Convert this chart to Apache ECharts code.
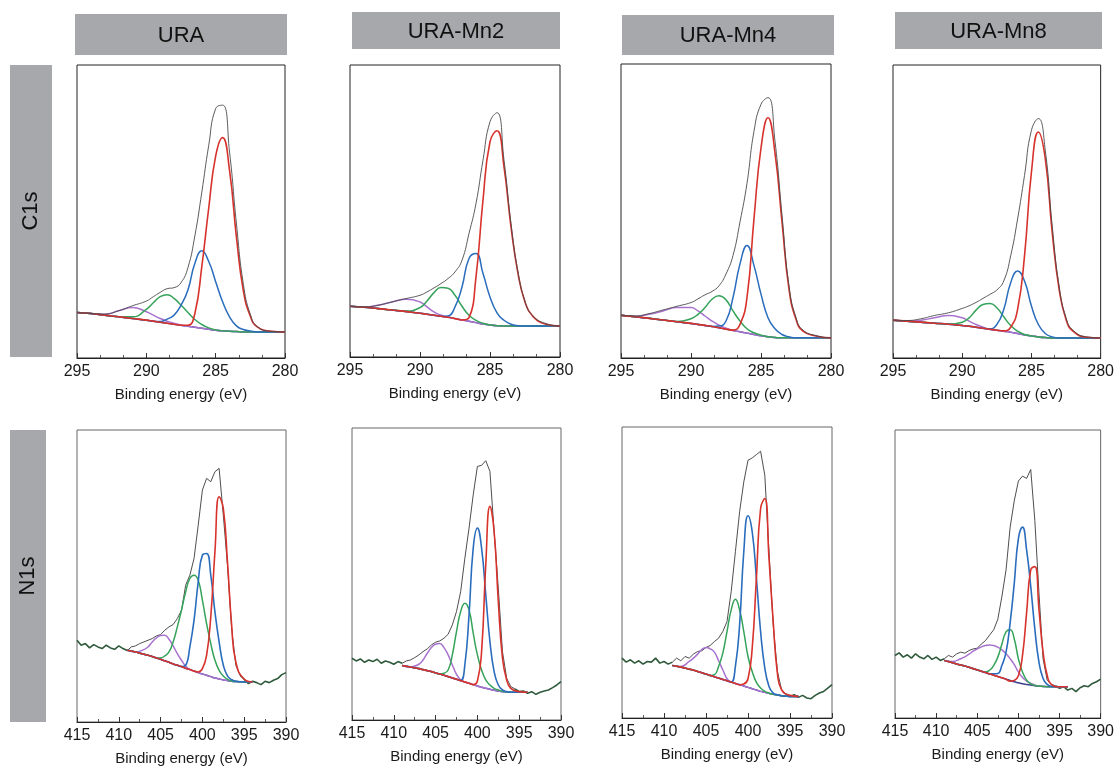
<!DOCTYPE html>
<html><head><meta charset="utf-8">
<script src="https://cdn.jsdelivr.net/npm/echarts@6/dist/echarts.min.js"></script>
<style>html,body{margin:0;padding:0;background:#fff}#chart{width:1117px;height:767px}</style>
</head><body><div id="chart"></div><script>
// ---------- labels ----------
const sampleNames = ['URA', 'URA-Mn2', 'URA-Mn4', 'URA-Mn8'];
const rowNames = ['C1s', 'N1s'];
const axisTitle = 'Binding energy (eV)';

// ---------- C1s (binding energy grid, eV) ----------
const c1sEnergy = [295, 294, 293, 292, 291, 290, 289.5, 289, 288.5, 288, 287.5, 287, 286.5, 286, 285.5, 285, 284.5, 284, 283.5, 283, 282.5, 282, 281, 280];

const c1sUraBg     = [13.6, 13.3, 12.8, 12.3, 11.8, 11.3, 11.0, 10.7, 10.4, 10.1, 9.8, 9.5, 9.2, 8.9, 8.6, 8.3, 8.1, 8.0, 7.9, 7.8, 7.8, 7.8, 7.8, 7.8];
const c1sUraPurple = [13.6, 13.3, 13.1, 14.1, 15.1, 13.8, 12.8, 11.8, 11.0, 10.4, 9.8, 9.5, 9.2, 8.9, 8.6, 8.3, 8.1, 8.0, 7.9, 7.8, 7.8, 7.8, 7.8, 7.8];
const c1sUraGreen  = [13.6, 13.3, 12.8, 12.3, 12.3, 14.5, 16.5, 18.3, 18.9, 17.8, 15.8, 13.6, 11.5, 10.0, 9.0, 8.4, 8.1, 8.0, 7.9, 7.8, 7.8, 7.8, 7.8, 7.8];
const c1sUraBlue   = [13.6, 13.3, 12.8, 12.3, 11.8, 11.3, 11.0, 10.9, 11.6, 12.8, 15.8, 20.3, 28.3, 32.0, 28.8, 22.8, 16.8, 12.3, 9.6, 8.5, 8.1, 7.8, 7.8, 7.8];
const c1sUraRed    = [13.6, 13.3, 12.8, 12.3, 11.8, 11.3, 11.0, 10.7, 10.4, 10.1, 9.8, 9.8, 13.3, 27.3, 44.8, 60.3, 65.8, 56.0, 36.0, 20.0, 12.5, 9.3, 8.0, 7.8];
const c1sUraEnv    = [13.6, 13.3, 13.1, 14.1, 15.6, 17.0, 18.3, 19.6, 20.7, 21.0, 22.5, 27.0, 36.5, 49.5, 63.5, 74.5, 75.5, 61.5, 40.0, 22.0, 13.0, 9.4, 8.0, 7.8];

const c1sMn2Bg     = [15.2, 14.9, 14.5, 14.1, 13.6, 13.1, 12.8, 12.5, 12.2, 11.9, 11.5, 11.1, 10.7, 10.3, 9.9, 9.6, 9.4, 9.3, 9.3, 9.3, 9.3, 9.3, 9.3, 9.3];
const c1sMn2Purple = [15.2, 15.0, 15.5, 16.5, 17.3, 16.5, 15.0, 13.5, 12.5, 12.0, 11.5, 11.1, 10.7, 10.3, 9.9, 9.6, 9.4, 9.3, 9.3, 9.3, 9.3, 9.3, 9.3, 9.3];
const c1sMn2Green  = [15.2, 14.9, 14.5, 14.1, 13.8, 14.8, 16.8, 19.3, 20.8, 20.6, 18.5, 15.2, 12.5, 11.0, 10.1, 9.6, 9.4, 9.3, 9.3, 9.3, 9.3, 9.3, 9.3, 9.3];
const c1sMn2Blue   = [15.2, 14.9, 14.5, 14.1, 13.6, 13.1, 12.8, 12.5, 12.2, 12.3, 15.0, 21.0, 29.5, 31.0, 25.0, 18.0, 13.2, 11.0, 9.8, 9.4, 9.3, 9.3, 9.3, 9.3];
const c1sMn2Red    = [15.2, 14.9, 14.5, 14.1, 13.6, 13.1, 12.8, 12.5, 12.2, 11.9, 11.5, 11.1, 11.8, 24.0, 47.0, 64.5, 67.8, 57.0, 39.0, 25.0, 16.5, 12.5, 9.8, 9.3];
const c1sMn2Env    = [15.2, 15.0, 15.5, 16.5, 17.5, 18.5, 19.5, 20.7, 22.0, 23.5, 25.5, 29.0, 37.0, 46.0, 59.0, 70.5, 73.2, 59.0, 40.0, 25.5, 16.7, 12.6, 10.0, 9.3];

const c1sMn4Bg     = [12.7, 12.3, 11.8, 11.3, 10.8, 10.3, 10.0, 9.7, 9.4, 9.0, 8.6, 8.2, 7.8, 7.4, 7.0, 6.6, 6.3, 6.1, 6.0, 6.0, 6.0, 6.0, 6.0, 6.0];
const c1sMn4Purple = [12.7, 12.4, 13.0, 14.0, 15.0, 15.0, 14.0, 12.5, 11.0, 9.8, 8.9, 8.2, 7.8, 7.4, 7.0, 6.6, 6.3, 6.1, 6.0, 6.0, 6.0, 6.0, 6.0, 6.0];
const c1sMn4Green  = [12.7, 12.3, 11.8, 11.3, 10.9, 11.7, 13.0, 15.0, 17.5, 18.5, 17.3, 14.0, 11.0, 8.7, 7.5, 6.8, 6.3, 6.1, 6.0, 6.0, 6.0, 6.0, 6.0, 6.0];
const c1sMn4Blue   = [12.7, 12.3, 11.8, 11.3, 10.8, 10.3, 10.0, 9.7, 9.4, 9.5, 11.0, 18.0, 28.0, 33.5, 27.5, 19.0, 12.0, 8.7, 7.0, 6.3, 6.0, 6.0, 6.0, 6.0];
const c1sMn4Red    = [12.7, 12.3, 11.8, 11.3, 10.8, 10.3, 10.0, 9.7, 9.4, 9.0, 8.6, 8.3, 10.0, 18.0, 41.5, 62.5, 71.5, 61.0, 40.5, 20.5, 11.5, 8.0, 6.5, 6.0];
const c1sMn4Env    = [12.7, 12.5, 13.2, 14.3, 15.4, 16.5, 17.6, 18.8, 19.8, 21.5, 25.0, 30.5, 40.5, 52.0, 67.5, 75.5, 77.5, 64.5, 42.5, 21.5, 12.0, 8.3, 6.6, 6.0];

const c1sMn8Bg     = [11.3, 11.0, 10.7, 10.4, 10.1, 9.7, 9.5, 9.2, 8.9, 8.6, 8.3, 8.0, 7.7, 7.3, 6.9, 6.6, 6.3, 6.1, 6.0, 6.0, 6.0, 6.0, 6.0, 6.0];
const c1sMn8Purple = [11.3, 11.0, 11.3, 12.0, 12.7, 12.0, 11.0, 10.0, 9.2, 8.5, 8.3, 8.0, 7.7, 7.3, 6.9, 6.6, 6.3, 6.1, 6.0, 6.0, 6.0, 6.0, 6.0, 6.0];
const c1sMn8Green  = [11.3, 11.0, 10.7, 10.4, 10.1, 10.7, 12.0, 14.3, 16.0, 16.3, 15.0, 12.3, 9.7, 8.0, 7.0, 6.6, 6.3, 6.1, 6.0, 6.0, 6.0, 6.0, 6.0, 6.0];
const c1sMn8Blue   = [11.3, 11.0, 10.7, 10.4, 10.1, 9.7, 9.5, 9.2, 8.9, 8.7, 10.0, 14.5, 22.5, 26.0, 23.0, 15.5, 10.0, 7.3, 6.3, 6.0, 6.0, 6.0, 6.0, 6.0];
const c1sMn8Red    = [11.3, 11.0, 10.7, 10.4, 10.1, 9.7, 9.5, 9.2, 8.9, 8.6, 8.3, 8.1, 9.2, 14.5, 30.5, 55.5, 67.5, 59.5, 37.5, 20.5, 11.5, 8.0, 6.2, 6.0];
const c1sMn8Env    = [11.3, 11.2, 11.7, 12.7, 13.5, 14.8, 15.6, 16.6, 17.8, 19.0, 20.3, 23.0, 30.5, 41.5, 54.5, 68.0, 71.5, 62.0, 39.5, 21.5, 12.0, 8.3, 6.3, 6.0];

// ---------- N1s ----------
const n1sFitEnergy = [409, 408, 407, 406.5, 406, 405.5, 405, 404.5, 404, 403.5, 403, 402.5, 402, 401.5, 401, 400.5, 400, 399.5, 399, 398.5, 398, 397.5, 397, 396.5, 396, 395, 394];
const n1sRawEnergy = [415, 414.5, 414, 413.5, 413, 412.5, 412, 411.5, 411, 410.5, 410, 409.5, 409, 408.5, 408, 407.5, 407, 406.5, 406, 405.5, 405, 404.5, 404, 403.5, 403, 402.5, 402, 401.5, 401, 400.5, 400, 399.5, 399, 398.5, 398, 397.5, 397, 396.5, 396, 395.5, 395, 394.5, 394, 393.5, 393, 392.5, 392, 391.5, 391, 390.5, 390];

const n1sUraBg     = [21.5, 21.0, 20.3, 20.0, 19.6, 19.2, 18.8, 18.3, 17.9, 17.4, 17.0, 16.6, 16.1, 15.7, 15.3, 14.8, 14.4, 14.0, 13.6, 13.2, 12.9, 12.6, 12.4, 12.2, 12.1, 12.0, 12.0];
const n1sUraPurple = [21.5, 21.0, 21.7, 22.5, 24.0, 25.2, 25.9, 26.0, 24.8, 22.8, 20.5, 18.5, 16.8, 15.7, 15.3, 14.8, 14.4, 14.0, 13.6, 13.2, 12.9, 12.6, 12.4, 12.2, 12.1, 12.0, 12.0];
const n1sUraGreen  = [21.5, 21.0, 20.3, 20.0, 19.6, 19.2, 19.2, 19.8, 21.0, 24.0, 28.5, 33.5, 39.0, 43.0, 44.0, 42.5, 36.5, 29.5, 23.5, 18.5, 15.5, 13.8, 12.8, 12.3, 12.1, 12.0, 12.0];
const n1sUraBlue   = [21.5, 21.0, 20.3, 20.0, 19.6, 19.2, 18.8, 18.3, 17.9, 17.4, 17.0, 16.6, 17.0, 22.5, 30.5, 42.0, 50.0, 50.5, 44.0, 33.0, 24.0, 17.0, 13.8, 12.7, 12.2, 12.0, 12.0];
const n1sUraRed    = [21.5, 21.0, 20.3, 20.0, 19.6, 19.2, 18.8, 18.3, 17.9, 17.4, 17.0, 16.6, 16.1, 15.7, 15.3, 15.0, 16.0, 20.0, 31.5, 51.0, 67.5, 64.0, 48.0, 29.0, 18.0, 12.8, 12.0];
const n1sUraRaw    = [24.5, 23.0, 23.5, 22.2, 23.2, 22.5, 22.0, 23.0, 22.2, 21.8, 22.8, 22.0, 21.4, 22.5, 22.8, 23.5, 24.0, 24.5, 25.0, 25.8, 26.2, 27.5, 28.5, 29.2, 31.0, 33.5, 41.0, 44.0, 49.0, 59.0, 69.5, 73.0, 72.0, 75.0, 76.0, 62.0, 47.0, 28.0, 17.0, 14.0, 12.8, 11.5, 12.2, 11.8, 11.2, 12.2, 11.8, 12.5, 13.0, 14.2, 14.8];

const n1sMn2Bg     = [16.3, 15.9, 15.4, 15.1, 14.8, 14.5, 14.1, 13.8, 13.4, 13.0, 12.6, 12.2, 11.8, 11.4, 11.0, 10.6, 10.2, 9.8, 9.5, 9.2, 8.9, 8.7, 8.5, 8.4, 8.3, 8.3, 8.3];
const n1sMn2Purple = [16.3, 15.9, 16.7, 18.0, 20.0, 21.7, 22.7, 22.9, 21.7, 19.5, 16.5, 13.7, 12.0, 11.4, 11.0, 10.6, 10.2, 9.8, 9.5, 9.2, 8.9, 8.7, 8.5, 8.4, 8.3, 8.3, 8.3];
const n1sMn2Green  = [16.3, 15.9, 15.4, 15.1, 14.8, 14.5, 14.1, 13.8, 14.0, 15.0, 19.5, 26.5, 32.5, 35.0, 33.0, 26.0, 19.5, 15.0, 12.0, 10.5, 9.5, 9.0, 8.6, 8.4, 8.3, 8.3, 8.3];
const n1sMn2Blue   = [16.3, 15.9, 15.4, 15.1, 14.8, 14.5, 14.1, 13.8, 13.4, 13.0, 12.6, 12.2, 11.8, 16.5, 31.5, 51.5, 57.5, 51.5, 37.5, 23.5, 14.5, 10.5, 9.0, 8.5, 8.3, 8.3, 8.3];
const n1sMn2Red    = [16.3, 15.9, 15.4, 15.1, 14.8, 14.5, 14.1, 13.8, 13.4, 13.0, 12.6, 12.2, 11.8, 11.4, 11.0, 10.6, 11.7, 20.5, 46.5, 64.0, 56.5, 35.5, 18.5, 12.0, 9.5, 8.5, 8.3];
const n1sMn2Raw    = [18.5, 17.7, 18.3, 17.3, 18.0, 17.5, 18.2, 17.0, 17.7, 17.3, 16.7, 17.5, 17.0, 17.7, 18.0, 18.7, 19.5, 20.5, 21.3, 22.5, 23.3, 23.7, 24.5, 25.7, 28.5, 32.5, 38.5, 48.5, 57.5, 67.5, 76.0, 76.3, 77.7, 74.5, 56.5, 39.5, 20.5, 12.5, 10.0, 9.3, 8.5, 8.7, 8.0, 8.5, 7.7, 8.3, 8.7, 9.0, 9.7, 10.5, 11.5];

const n1sMn4Bg     = [15.8, 15.3, 14.7, 14.4, 14.0, 13.6, 13.2, 12.8, 12.4, 12.0, 11.6, 11.2, 10.8, 10.4, 10.0, 9.6, 9.2, 8.8, 8.4, 8.0, 7.7, 7.4, 7.1, 6.9, 6.7, 6.5, 6.5];
const n1sMn4Purple = [15.8, 15.5, 17.0, 18.0, 19.2, 20.6, 21.2, 20.8, 19.8, 17.2, 14.5, 11.8, 10.8, 10.4, 10.0, 9.6, 9.2, 8.8, 8.4, 8.0, 7.7, 7.4, 7.1, 6.9, 6.7, 6.5, 6.5];
const n1sMn4Green  = [15.8, 15.3, 14.7, 14.4, 14.0, 13.6, 13.2, 12.8, 13.0, 15.5, 19.5, 26.0, 32.5, 35.7, 32.5, 26.0, 18.5, 14.0, 10.7, 9.0, 8.0, 7.5, 7.1, 6.9, 6.7, 6.5, 6.5];
const n1sMn4Blue   = [15.8, 15.3, 14.7, 14.4, 14.0, 13.6, 13.2, 12.8, 12.4, 12.0, 11.6, 11.2, 10.8, 15.5, 28.0, 50.0, 60.8, 56.0, 42.0, 26.0, 15.0, 9.5, 7.5, 7.0, 6.7, 6.5, 6.5];
const n1sMn4Red    = [15.8, 15.3, 14.7, 14.4, 14.0, 13.6, 13.2, 12.8, 12.4, 12.0, 11.6, 11.2, 10.8, 10.4, 10.0, 10.2, 11.8, 21.0, 42.0, 63.0, 66.0, 48.0, 29.0, 13.5, 8.5, 6.8, 6.5];
const n1sMn4Raw    = [18.0, 16.8, 17.5, 16.5, 17.2, 16.2, 17.0, 16.8, 18.0, 16.5, 17.0, 16.2, 16.8, 18.0, 17.2, 18.5, 18.0, 19.2, 20.0, 20.2, 21.2, 21.8, 23.0, 24.0, 26.0, 29.0, 38.0, 50.0, 62.0, 71.0, 77.5, 78.2, 79.2, 80.2, 73.0, 50.0, 28.0, 14.0, 8.5, 7.2, 6.5, 7.0, 6.2, 6.8, 6.0, 5.8, 6.8, 7.5, 8.0, 9.0, 10.0];

const n1sMn8Bg     = [17.5, 16.8, 16.1, 15.8, 15.4, 15.0, 14.6, 14.2, 13.8, 13.4, 13.0, 12.6, 12.2, 11.8, 11.4, 11.0, 10.7, 10.4, 10.2, 10.0, 9.8, 9.7, 9.6, 9.5, 9.5, 9.5, 9.5];
const n1sMn8Purple = [17.5, 17.2, 18.0, 18.6, 19.4, 20.3, 21.0, 21.6, 22.0, 22.2, 22.0, 21.5, 20.7, 19.5, 18.0, 16.2, 14.0, 12.3, 11.2, 10.5, 10.0, 9.7, 9.6, 9.5, 9.5, 9.5, 9.5];
const n1sMn8Green  = [17.5, 16.8, 16.1, 15.8, 15.4, 15.0, 14.6, 14.2, 14.0, 14.5, 16.0, 18.5, 22.5, 26.2, 26.8, 24.0, 18.0, 14.0, 11.5, 10.4, 9.9, 9.7, 9.6, 9.5, 9.5, 9.5, 9.5];
const n1sMn8Blue   = [17.5, 16.8, 16.1, 15.8, 15.4, 15.0, 14.6, 14.2, 13.8, 13.4, 13.4, 13.5, 16.0, 20.0, 29.0, 41.0, 54.5, 58.0, 51.0, 40.0, 27.0, 17.0, 12.0, 10.2, 9.6, 9.5, 9.5];
const n1sMn8Red    = [17.5, 16.8, 16.1, 15.8, 15.4, 15.0, 14.6, 14.2, 13.8, 13.4, 13.0, 12.6, 12.2, 11.8, 11.2, 11.4, 12.8, 19.0, 32.0, 45.0, 46.0, 33.0, 20.0, 13.0, 10.2, 9.5, 9.5];
const n1sMn8Raw    = [19.0, 19.8, 18.5, 19.2, 18.2, 19.5, 18.5, 18.0, 19.0, 17.8, 18.5, 17.5, 18.0, 19.0, 18.5, 19.5, 20.0, 19.7, 20.5, 21.0, 21.2, 22.5, 23.5, 25.2, 26.8, 30.0, 37.0, 45.0, 58.0, 66.0, 72.0, 73.5, 72.8, 75.5, 60.0, 38.0, 18.0, 11.5, 10.2, 9.8, 9.0, 9.5, 8.5, 9.0, 8.0, 9.2, 9.8, 9.5, 10.5, 11.0, 11.8];

// ---------- assembly ----------
const c1sPanels = [
  {bg: c1sUraBg, purple: c1sUraPurple, green: c1sUraGreen, blue: c1sUraBlue, red: c1sUraRed, env: c1sUraEnv},
  {bg: c1sMn2Bg, purple: c1sMn2Purple, green: c1sMn2Green, blue: c1sMn2Blue, red: c1sMn2Red, env: c1sMn2Env},
  {bg: c1sMn4Bg, purple: c1sMn4Purple, green: c1sMn4Green, blue: c1sMn4Blue, red: c1sMn4Red, env: c1sMn4Env},
  {bg: c1sMn8Bg, purple: c1sMn8Purple, green: c1sMn8Green, blue: c1sMn8Blue, red: c1sMn8Red, env: c1sMn8Env}
];
const n1sPanels = [
  {bg: n1sUraBg, purple: n1sUraPurple, green: n1sUraGreen, blue: n1sUraBlue, red: n1sUraRed, raw: n1sUraRaw},
  {bg: n1sMn2Bg, purple: n1sMn2Purple, green: n1sMn2Green, blue: n1sMn2Blue, red: n1sMn2Red, raw: n1sMn2Raw},
  {bg: n1sMn4Bg, purple: n1sMn4Purple, green: n1sMn4Green, blue: n1sMn4Blue, red: n1sMn4Red, raw: n1sMn4Raw},
  {bg: n1sMn8Bg, purple: n1sMn8Purple, green: n1sMn8Green, blue: n1sMn8Blue, red: n1sMn8Red, raw: n1sMn8Raw}
];

const C = {bg: '#3b3f8c', purple: '#a873cf', green: '#35a35a', blue: '#2a6dbd', red: '#d8322c', env: '#4a4a4a', raw: '#3a3a3a', rawEdge: '#2f5a3b'};
const FONT = '"Liberation Sans", Arial, sans-serif';

const c1sGrids = [
  {left: 77, top: 65, width: 208, height: 293},
  {left: 350, top: 65, width: 210, height: 292},
  {left: 621, top: 64, width: 210, height: 294},
  {left: 893, top: 65, width: 208, height: 293}
];
const n1sGrids = [
  {left: 77, top: 430, width: 209, height: 292},
  {left: 352, top: 428, width: 209, height: 292},
  {left: 622, top: 427, width: 210, height: 291},
  {left: 895, top: 430, width: 207, height: 288}
];

const grids = [], xAxes = [], yAxes = [], series = [];
function pairs(xs, ys) { return xs.map((x, i) => [x, ys[i]]); }

function addPanel(g, isC1s, idx) {
  grids.push(Object.assign({show: true, borderColor: isC1s ? '#222' : '#666', borderWidth: 1, backgroundColor: 'transparent'}, g));
  xAxes.push({
    gridIndex: idx, type: 'value', inverse: true,
    min: isC1s ? 280 : 390, max: isC1s ? 295 : 415, interval: 5,
    axisLine: {show: true, onZero: false, lineStyle: {color: '#222', width: 1}},
    axisTick: {show: true, inside: true, length: 5, lineStyle: {color: '#333'}},
    minorTick: {show: true, splitNumber: isC1s ? 3 : 2, length: 3, lineStyle: {color: '#555'}},
    axisLabel: {fontSize: 16, color: '#1a1a1a', margin: 6, fontFamily: FONT},
    splitLine: {show: false}, minorSplitLine: {show: false},
    name: axisTitle, nameLocation: 'middle', nameGap: 29,
    nameTextStyle: {fontSize: 15, color: '#1a1a1a', fontFamily: FONT}
  });
  yAxes.push({gridIndex: idx, type: 'value', min: 0, max: 87.5, show: false});
}

function line(idx, data, color, width, smooth, z) {
  series.push({type: 'line', xAxisIndex: idx, yAxisIndex: idx, data: data, showSymbol: false, symbol: 'none',
    smooth: smooth, lineStyle: {color: color, width: width}, z: z, silent: true, animation: false, connectNulls: false});
}

c1sPanels.forEach((p, i) => {
  const idx = i;
  addPanel(c1sGrids[i], true, idx);
  line(idx, pairs(c1sEnergy, p.bg), C.bg, 1.5, 0.5, 2);
  line(idx, pairs(c1sEnergy, p.purple), C.purple, 1.5, 0.5, 3);
  line(idx, pairs(c1sEnergy, p.green), C.green, 1.5, 0.5, 4);
  line(idx, pairs(c1sEnergy, p.blue), C.blue, 1.5, 0.5, 5);
  line(idx, pairs(c1sEnergy, p.red), C.red, 1.6, 0.5, 6);
  line(idx, pairs(c1sEnergy, p.env), C.env, 0.9, 0.5, 7);
});

n1sPanels.forEach((p, i) => {
  const idx = i + 4;
  addPanel(n1sGrids[i], false, idx);
  const rawMid = n1sRawEnergy.map((e, k) => [e, (e <= 409 && e >= 395.5) ? p.raw[k] : null]);
  const rawEdge = n1sRawEnergy.map((e, k) => [e, (e >= 409 || e <= 395.5) ? p.raw[k] : null]);
  line(idx, rawMid, C.raw, 0.9, false, 2);
  line(idx, rawEdge, C.rawEdge, 1.6, false, 3);
  line(idx, pairs(n1sFitEnergy, p.bg), C.bg, 1.5, 0.5, 4);
  line(idx, pairs(n1sFitEnergy, p.purple), C.purple, 1.5, 0.5, 5);
  line(idx, pairs(n1sFitEnergy, p.green), C.green, 1.5, 0.5, 6);
  line(idx, pairs(n1sFitEnergy, p.blue), C.blue, 1.6, 0.5, 7);
  line(idx, pairs(n1sFitEnergy, p.red), C.red, 1.6, 0.5, 8);
});

// header + row label boxes
const headerBoxes = [
  {x: 75, y: 14, w: 212, h: 41},
  {x: 352, y: 12, w: 208, h: 37},
  {x: 622, y: 15, w: 212, h: 40},
  {x: 895, y: 12, w: 207, h: 37}
];
const rowBoxes = [
  {x: 10, y: 65, w: 42, h: 292},
  {x: 10, y: 430, w: 36, h: 292}
];
const graphic = [];
sampleNames.forEach((name, i) => {
  const b = headerBoxes[i];
  graphic.push({type: 'rect', shape: {x: b.x, y: b.y, width: b.w, height: b.h}, style: {fill: '#a7a8ab'}, silent: true});
  graphic.push({type: 'text', x: b.x + b.w / 2, y: b.y + b.h / 2 + 1,
    style: {text: name, fill: '#111', font: '22px ' + FONT, textAlign: 'center', textVerticalAlign: 'middle'}, silent: true});
});
rowNames.forEach((name, i) => {
  const b = rowBoxes[i];
  graphic.push({type: 'rect', shape: {x: b.x, y: b.y, width: b.w, height: b.h}, style: {fill: '#a7a8ab'}, silent: true});
  graphic.push({type: 'text', x: b.x + b.w / 2, y: b.y + b.h / 2, rotation: Math.PI / 2,
    style: {text: name, fill: '#111', font: '22px ' + FONT, textAlign: 'center', textVerticalAlign: 'middle'}, silent: true});
});

const chart = echarts.init(document.getElementById('chart'), null, {renderer: 'canvas'});
chart.setOption({
  backgroundColor: '#ffffff',
  animation: false,
  grid: grids, xAxis: xAxes, yAxis: yAxes, series: series,
  graphic: graphic
});
</script></body></html>
